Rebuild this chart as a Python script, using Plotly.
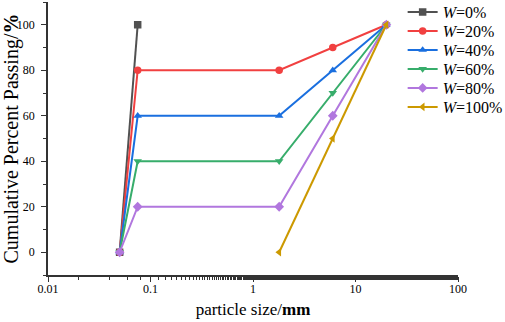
import plotly.graph_objects as go

sizes = [0.05, 0.075, 1.8, 6, 20]
w0_x = [0.05, 0.075]
w0_y = [0, 100]
w20_y = [0, 80, 80, 90, 100]
w40_y = [0, 60, 60, 80, 100]
w60_y = [0, 40, 40, 70, 100]
w80_y = [0, 20, 20, 60, 100]
w100_x = [1.8, 6, 20]
w100_y = [0, 50, 100]

names = ["<i>W</i>=0%", "<i>W</i>=20%", "<i>W</i>=40%", "<i>W</i>=60%", "<i>W</i>=80%", "<i>W</i>=100%"]
colors = ["#515151", "#F14040", "#1A6FDF", "#37AD6B", "#B177DE", "#CC9900"]
symbols = ["square", "circle", "triangle-up", "triangle-down", "diamond", "triangle-left"]
xs = [w0_x, sizes, sizes, sizes, sizes, w100_x]
ys = [w0_y, w20_y, w40_y, w60_y, w80_y, w100_y]

font = "Liberation Serif, Times New Roman, serif"
W, H = 505, 322
ml, mr, mt, mb = 48, 47, 2, 47
plot_h = H - mt - mb

fig = go.Figure()
legend_layouts = {}
for i, (n, c, s, x, y) in enumerate(zip(names, colors, symbols, xs, ys)):
    lname = "legend" if i == 0 else f"legend{i + 1}"
    fig.add_trace(go.Scatter(x=x, y=y, name=n, mode="lines+markers",
                             line=dict(color=c, width=2),
                             marker=dict(symbol=s, color=c, size=7.5),
                             legend=lname))
    center_px = 12 + 19 * i
    legend_layouts[lname] = dict(x=0.865, y=(H - mb - center_px) / plot_h,
                                 xanchor="left", yanchor="middle",
                                 bgcolor="rgba(0,0,0,0)",
                                 font=dict(size=16, family=font, color="black"),
                                 itemwidth=30)

fig.update_layout(
    width=W, height=H,
    margin=dict(l=ml, r=mr, t=mt, b=mb, autoexpand=False),
    paper_bgcolor="white", plot_bgcolor="white",
    font=dict(family=font, size=12, color="black"),
    showlegend=True,
    **legend_layouts,
)
fig.update_xaxes(type="log", range=[-2, 2], showgrid=False, zeroline=False,
                 showline=True, linecolor="#333", linewidth=1.5,
                 ticks="outside", ticklen=5, tickcolor="#333", automargin=False,
                 tickvals=[0.01, 0.1, 1, 10, 100], ticktext=["0.01", "0.1", "1", "10", "100"],
                 tickfont=dict(size=12), ticklabelstandoff=-3,
                 minor=dict(ticks="outside", ticklen=3, tickcolor="#333", showgrid=False),
                 title=dict(text="particle size/<b>mm</b>", font=dict(size=17), standoff=8))
fig.update_yaxes(range=[-10, 110], showgrid=False, zeroline=False,
                 showline=True, linecolor="#333", linewidth=1.5,
                 ticks="outside", ticklen=5, tickcolor="#333", automargin=False,
                 tickvals=[0, 20, 40, 60, 80, 100],
                 tickfont=dict(size=12), ticklabelstandoff=4,
                 minor=dict(ticks="outside", ticklen=3, tickcolor="#333", dtick=10, showgrid=False),
                 title=dict(text="Cumulative Percent Passing/<b>%</b>", font=dict(size=20), standoff=2))

fig.write_html("out.html", config={"displayModeBar": False},
               post_script="document.body.style.margin='0';document.body.style.overflow='hidden';")
